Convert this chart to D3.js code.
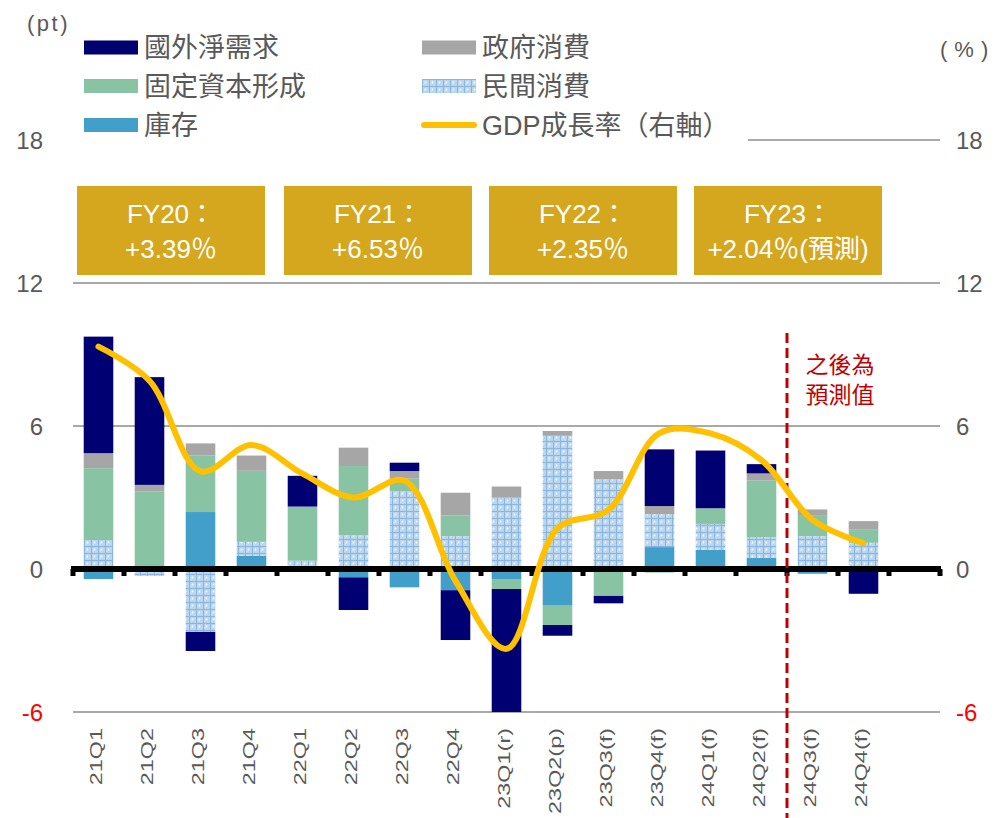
<!DOCTYPE html>
<html lang="zh-Hant">
<head>
<meta charset="UTF-8">
<script src="https://d3js.org/d3.v7.min.js"></script>
<style>
  body {margin: 0; background: #fff;}
  svg text {font-family: "Liberation Sans", Arial, "Noto Sans CJK TC", sans-serif;}
</style>
</head>
<body>
<svg id="chart" width="995" height="818"></svg>
<script>
// data
const quarters = ["21Q1", "21Q2", "21Q3", "21Q4", "22Q1", "22Q2", "22Q3", "22Q4",
    "23Q1(r)", "23Q2(p)", "23Q3(f)", "23Q4(f)", "24Q1(f)", "24Q2(f)", "24Q3(f)", "24Q4(f)"];
const inventory    = [-0.42, 0, 2.39, 0.55, 0, -0.35, -0.77, -0.89, -0.42, -1.54, 0, 0.92, 0.81, 0.46, -0.2, 0];
const privateCons  = [1.26, -0.29, -2.64, 0.59, 0.35, 1.41, 3.27, 1.38, 3.01, 5.59, 3.76, 1.38, 1.08, 0.88, 1.38, 1.1];
const fixedCapital = [2.97, 3.26, 2.38, 2.98, 2.27, 2.91, 0.52, 0.87, -0.42, -0.81, -1.13, -0.15, 0.66, 2.38, 0.85, 0.57];
const govCons      = [0.63, 0.27, 0.5, 0.64, 0, 0.77, 0.32, 0.95, 0.45, 0.2, 0.35, 0.34, 0, 0.29, 0.27, 0.34];
const netExports   = [4.89, 4.52, -0.8, 0, 1.29, -1.37, 0.35, -2.09, -5.2, -0.45, -0.31, 2.38, 2.42, 0.39, 0, -1.04];
const gdpGrowth    = [9.33, 7.9, 4.1, 5.2, 4.0, 3.0, 3.7, -0.5, -3.35, 1.7, 2.48, 5.7, 5.69, 4.57, 2.06, 1.08];
const yTicks = [-6, 0, 6, 12, 18];
const fyTitles = ["FY20：", "FY21：", "FY22：", "FY23："];
const fyValues = ["+3.39％", "+6.53％", "+2.35％", "+2.04％(預測)"];
const forecastNote = ["之後為", "預測值"];

const series = [
    {key: "inv", name: "庫存", values: inventory, fill: "#419FC9"},
    {key: "priv", name: "民間消費", values: privateCons, fill: "url(#dotgrid)"},
    {key: "fix", name: "固定資本形成", values: fixedCapital, fill: "#88C3A3"},
    {key: "gov", name: "政府消費", values: govCons, fill: "#A6A6A6"},
    {key: "net", name: "國外淨需求", values: netExports, fill: "#000072"}
];

const svg = d3.select("#chart");
const txt = "#595959";

const defs = svg.append("defs");
const pat = defs.append("pattern").attr("id", "dotgrid")
    .attr("width", 7).attr("height", 7).attr("patternUnits", "userSpaceOnUse");
pat.append("rect").attr("width", 7).attr("height", 7).attr("fill", "#B9D6EE");
pat.append("path").attr("d", "M0 0.5H7M0.5 0V7").attr("stroke", "#8AB6DD").attr("stroke-width", 1);
pat.append("circle").attr("cx", 3.5).attr("cy", 3.5).attr("r", 0.9).attr("fill", "#fff");
pat.append("circle").attr("cx", 2).attr("cy", 5).attr("r", 0.5).attr("fill", "#E8F2FA");

const x = d3.scaleBand().domain(quarters).range([73, 889]).paddingInner(0.42).paddingOuter(0.21);
const xEnd = x.range()[1] + x.step();   // axis runs one empty slot further
const y = d3.scaleLinear().domain([-6, 18]).range([712, 140]);

// grid lines
svg.append("g").selectAll("line").data(yTicks.filter(d => d !== 0)).join("line")
    .attr("x1", 73).attr("x2", xEnd)
    .attr("y1", d => y(d)).attr("y2", d => y(d))
    .attr("stroke", "#8C8C8C").attr("stroke-width", 1.5);

// stacked bars
const rows = quarters.map((q, i) => {
    const r = {q: q};
    series.forEach(s => r[s.key] = s.values[i]);
    return r;
});
const stacked = d3.stack().keys(series.map(s => s.key)).offset(d3.stackOffsetDiverging)(rows);

svg.append("g").selectAll("g").data(stacked).join("g")
    .attr("fill", (d, i) => series[i].fill)
    .selectAll("rect").data(d => d).join("rect")
    .attr("x", d => x(d.data.q))
    .attr("width", x.bandwidth())
    .attr("y", d => y(Math.min(18, Math.max(d[0], d[1]))))
    .attr("height", d => Math.abs(y(Math.max(-6, d[0])) - y(Math.max(-6, d[1]))));

// zero axis with tick marks
const zero = svg.append("g");
zero.append("line").attr("x1", 71).attr("x2", xEnd + 1).attr("y1", y(0)).attr("y2", y(0))
    .attr("stroke", "#000").attr("stroke-width", 6);
zero.selectAll("rect").data(d3.range(quarters.length + 2)).join("rect")
    .attr("x", i => x.range()[0] + i * x.step() - 2.5)
    .attr("y", y(0)).attr("width", 5).attr("height", 7).attr("fill", "#000");

// forecast marker
const splitX = x.range()[0] + 14 * x.step();
svg.append("line").attr("x1", splitX).attr("x2", splitX).attr("y1", 333).attr("y2", 818)
    .attr("stroke", "#C00000").attr("stroke-width", 3).attr("stroke-dasharray", "10,5");
svg.append("g").selectAll("text").data(forecastNote).join("text")
    .attr("x", 840).attr("y", (d, i) => 373 + i * 30)
    .attr("text-anchor", "middle").attr("font-size", 23).attr("fill", "#C00000")
    .text(d => d);

// GDP growth line
svg.append("path").datum(gdpGrowth)
    .attr("fill", "none").attr("stroke", "#FFC000").attr("stroke-width", 6)
    .attr("stroke-linecap", "round").attr("stroke-linejoin", "round")
    .attr("d", d3.line()
        .x((d, i) => x(quarters[i]) + x.bandwidth() / 2)
        .y(d => y(d))
        .curve(d3.curveCatmullRom.alpha(0.5)));

// legend background hides the 18 grid line on the left
svg.append("rect").attr("x", 60).attr("y", 0).attr("width", 688).attr("height", 150).attr("fill", "#fff");

// y tick labels, both sides
["left", "right"].forEach(side => {
    svg.append("g").selectAll("text").data(yTicks).join("text")
        .attr("x", side === "left" ? 43 : 956)
        .attr("y", d => y(d))
        .attr("dy", "0.36em")
        .attr("text-anchor", side === "left" ? "end" : "start")
        .attr("font-size", 24)
        .attr("fill", d => d < 0 ? "#FF0000" : txt)
        .text(d => d);
});
svg.append("text").attr("x", 27).attr("y", 31).attr("font-size", 22)
    .attr("letter-spacing", 2.5).attr("fill", txt).text("(pt)");
svg.append("text").attr("x", 940).attr("y", 57).attr("font-size", 22)
    .attr("letter-spacing", 7).attr("fill", txt).text("(%)");

// x labels
svg.append("g").selectAll("text").data(quarters).join("text")
    .attr("transform", d => `translate(${x(d) + x.bandwidth() / 2 - 2},728) rotate(-90) scale(1.42,1)`)
    .attr("dy", "0.36em")
    .attr("text-anchor", "end")
    .attr("font-size", 16.5)
    .attr("fill", txt)
    .text(d => d);

// legend
const legendItems = [
    {s: series[4], col: 0, row: 0}, {s: series[3], col: 1, row: 0},
    {s: series[2], col: 0, row: 1}, {s: series[1], col: 1, row: 1},
    {s: series[0], col: 0, row: 2}, {s: null, col: 1, row: 2}
];
const lg = svg.append("g").selectAll("g").data(legendItems).join("g")
    .attr("transform", d => `translate(${d.col ? 422 : 84},${[47.5, 86, 125][d.row]})`);
lg.filter(d => d.s).append("rect")
    .attr("x", 0).attr("y", -7).attr("width", 54).attr("height", 14)
    .attr("fill", d => d.s.fill);
lg.filter(d => !d.s).append("line")
    .attr("x1", 2).attr("x2", 52).attr("y1", 0).attr("y2", 0)
    .attr("stroke", "#FFC000").attr("stroke-width", 6).attr("stroke-linecap", "round");
lg.append("text")
    .attr("x", 60).attr("dy", "0.36em")
    .attr("font-size", 27).attr("fill", txt)
    .text(d => d.s ? d.s.name : "GDP成長率（右軸）");

// fiscal-year boxes
const boxLeft = [77, 284, 489, 694];
const fy = svg.append("g").selectAll("g").data(fyTitles).join("g")
    .attr("transform", (d, i) => `translate(${boxLeft[i]},186)`);
fy.append("rect").attr("width", 188).attr("height", 89).attr("fill", "#D5A71F");
fy.append("text").attr("x", 94).attr("y", 37).attr("text-anchor", "middle")
    .attr("font-size", 26).attr("fill", "#fff").text(d => d);
fy.append("text").attr("x", 94).attr("y", 72).attr("text-anchor", "middle")
    .attr("font-size", 26).attr("fill", "#fff").text((d, i) => fyValues[i]);
</script>
</body>
</html>
